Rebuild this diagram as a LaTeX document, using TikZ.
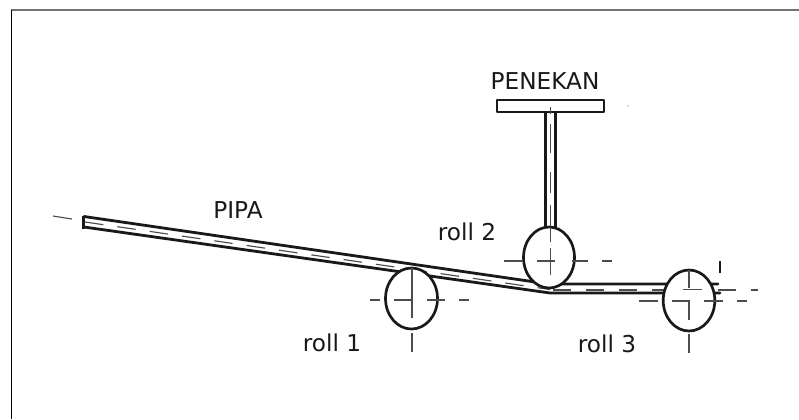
\documentclass[tikz,border=0pt]{standalone}
\usepackage{fontspec}
\setmainfont{DejaVu Sans}
\tikzset{
  px/.style={x=0.75pt,y=-0.75pt},
  thickline/.style={line width=2.1pt,black!90},
  centre/.style={line width=0.85pt,black!70},
  rollshape/.style={draw=black!90,line width=2pt,fill=white},
  lab/.style={font=\fontsize{17.4pt}{20pt}\selectfont,inner sep=0pt,text=black!90}
}
\begin{document}
\begin{tikzpicture}[px]
\useasboundingbox (0,0) rectangle (799,419);
\fill[white] (0,0) rectangle (799,419);
% frame
\draw[line width=1.2pt,black!55] (11,10) -- (799,10);
\draw[line width=1pt,black] (11.3,9.5) -- (11.3,419);
% pipe
\draw[thickline,line cap=round,line join=round] (84,216.5) -- (549,284) -- (718,284);
\draw[thickline,line cap=round,line join=round] (84,227) -- (550,293) -- (720,293);
\draw[line width=2.4pt,black!90] (83.8,215.5) -- (83.8,228.5);
\draw[centre] (53,216) -- (72,219);
\draw[centre,dash pattern=on 13.9pt off 10.6pt] (85,222) -- (550,289.5);
\draw[centre,dash pattern=on 13.5pt off 11.2pt] (553,290) -- (758,290);
% press
\draw[thickline] (545.5,112) -- (545.5,230);
\draw[thickline] (555.5,112) -- (555.5,230);
\draw[line width=1.7pt,black!90,line join=round,fill=white] (497,100) rectangle (604,112);
\draw[centre] (550.7,107) -- (550.7,114);
\draw[centre] (550.7,124) -- (550.7,153);
\draw[centre] (550.7,172) -- (550.7,193);
\draw[centre] (550.7,205) -- (550.7,228);
\fill[black!60] (628,106) circle (0.7);
% rolls
\draw[rollshape] (411.5,298.5) ellipse (26 and 30.5);
\draw[rollshape] (549,257.5) ellipse (25.5 and 30.5);
\draw[rollshape] (689,300.5) ellipse (25.8 and 30.5);
% roll 1 centre lines
\draw[centre] (412,268) -- (412,318) (412,333) -- (412,352);
\draw[centre] (370,300) -- (380,300) (394,300) -- (413,300) (427,300) -- (445,300) (459,300) -- (469,300);
% roll 2 centre lines
\draw[centre] (550.7,227) -- (550.7,242) (550.7,248) -- (550.7,275);
\draw[centre] (504,261) -- (523,261) (537,261) -- (555,261) (572,261) -- (588,261) (602,261) -- (612,261);
% roll 3 centre lines
\draw[centre] (689,270) -- (689,288) (689,301) -- (689,320) (689,334) -- (689,353);
\draw[centre] (639,301) -- (658,301) (672,301) -- (690,301) (704,301) -- (723,301) (737,301) -- (747,301);
\draw[centre] (683,289.7) -- (702,289.7);
\draw[line width=2.2pt,black!90] (720,261) -- (720,273);
% labels
\node[lab] (penekan) at (545,81) {PENEKAN};
\node[lab] (pipa) at (238,210) {PIPA};
\node[lab] (roll2) at (467,232) {roll 2};
\node[lab] (roll1) at (332,343) {roll 1};
\node[lab] (roll3) at (607,344) {roll 3};
\end{tikzpicture}
\end{document}
